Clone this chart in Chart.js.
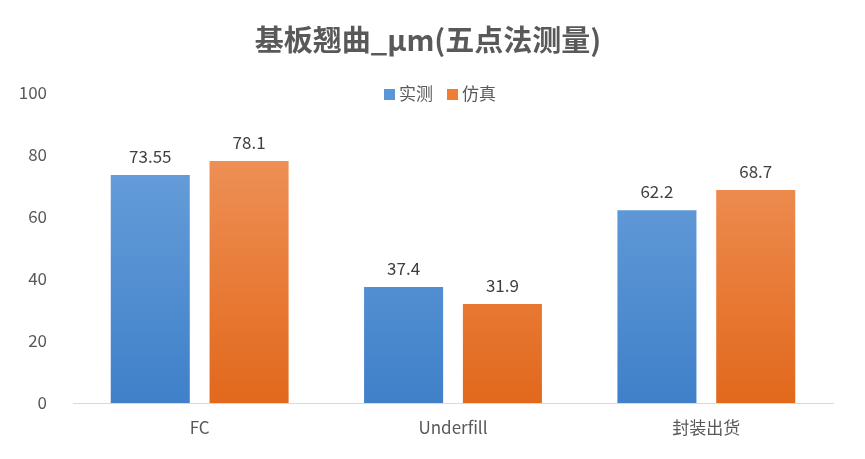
<!DOCTYPE html>
<html><head><meta charset="utf-8">
<script src="https://cdn.jsdelivr.net/npm/chart.js@4"></script>
<style>html,body{margin:0;padding:0;background:#fff}#w{width:865px;height:459px}</style>
</head><body><div id="w"><canvas id="c"></canvas></div>
<script>
const categories = ["FC", "Underfill", "封装出货"];
const measured = [73.55, 37.4, 62.2];
const simulated = [78.1, 31.9, 68.7];
const seriesNames = ["实测", "仿真"];
const titleText = "基板翘曲_μm(五点法测量)";
const FONT = "'Noto Sans CJK SC','Noto Sans',sans-serif";

function grad(top, bottom) {
  return (ctx) => {
    const ch = ctx.chart, a = ch.chartArea;
    if (!a) return bottom;
    const g = ch.ctx.createLinearGradient(0, a.top, 0, a.bottom);
    g.addColorStop(0, top); g.addColorStop(1, bottom);
    return g;
  };
}
const extras = {
  id: 'extras',
  afterDatasetsDraw(chart) {
    const c = chart.ctx;
    c.save();
    c.fillStyle = '#404040'; c.font = "17px " + FONT;
    c.textAlign = 'center'; c.textBaseline = 'bottom';
    chart.data.datasets.forEach((ds, i) => {
      chart.getDatasetMeta(i).data.forEach((bar, j) => {
        c.fillText(String(ds.data[j]), bar.x, bar.y - 10);
      });
    });
    c.fillStyle = '#595959'; c.font = "bold 29px " + FONT; c.textBaseline = 'middle';
    c.fillText(titleText, 428, 40);
    c.font = "17px " + FONT; c.textAlign = 'left';
    const cols = ['#5a95d8', '#ef7e33'];
    const xs = [384, 447];
    seriesNames.forEach((n, i) => {
      c.fillStyle = cols[i]; c.fillRect(xs[i], 89, 11, 11);
      c.fillStyle = '#595959'; c.fillText(n, xs[i] + 15, 94);
    });
    c.restore();
  }
};
new Chart(document.getElementById('c'), {
  type: 'bar',
  data: {
    labels: categories,
    datasets: [
      { label: seriesNames[0], data: measured, backgroundColor: grad('#72a6de', '#3f80c9') },
      { label: seriesNames[1], data: simulated, backgroundColor: grad('#f19a64', '#e2681c') }
    ]
  },
  options: {
    responsive: true, maintainAspectRatio: false, animation: false,
    devicePixelRatio: 1,
    layout: { padding: { top: 93, right: 32, left: 0, bottom: 0 } },
    datasets: { bar: { categoryPercentage: 0.78, barPercentage: 0.8 } },
    plugins: { legend: { display: false }, title: { display: false }, tooltip: { enabled: false } },
    scales: {
      x: {
        grid: { display: false, drawTicks: false },
        border: { color: '#d9d9d9', width: 1 },
        ticks: { color: '#595959', font: { size: 17, family: FONT }, padding: 14 },
        afterFit(s) { s.height = 56; }
      },
      y: {
        min: 0, max: 100,
        grid: { display: false, drawTicks: false },
        border: { display: false },
        ticks: { stepSize: 20, color: '#595959', font: { size: 17, family: FONT }, padding: 26 },
        afterFit(s) { s.width = 73; }
      }
    }
  },
  plugins: [extras]
});
</script></body></html>
